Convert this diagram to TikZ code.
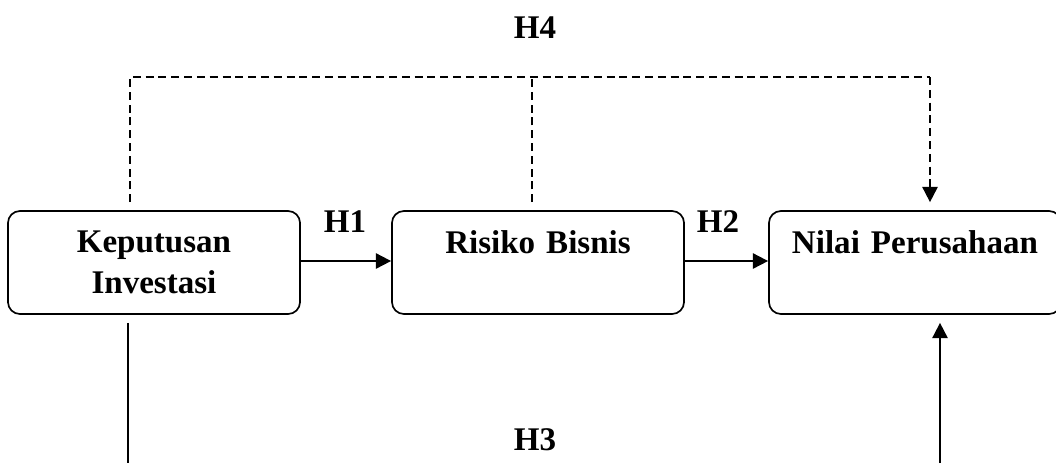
\documentclass[tikz,border=0pt]{standalone}
\usepackage{fontspec}
\setmainfont{Liberation Serif}
\usetikzlibrary{arrows.meta, positioning, calc}
\tikzstyle{varbox} = [rectangle, rounded corners=0.3cm, minimum width=7.3cm, minimum height=2.575cm, text width=7cm, align=center, draw=black, line width=1.2pt]
\tikzstyle{arrow} = [line width=1.3pt, -{Triangle[length=0.38cm,width=0.38cm]}]
\tikzstyle{hypline} = [line width=1.1pt, dash pattern=on 0.2cm off 0.12cm]
\tikzstyle{hlabel} = [inner sep=0pt]

\begin{document}
\begin{tikzpicture}[x=0.025cm, y=-0.025cm, font=\fontsize{23.5}{29}\selectfont\bfseries]
            \useasboundingbox (0,0) rectangle (1056,463);
            \node (inv) [varbox] at (154,262.5) {Keputusan\\Investasi};
            \node (risiko) [varbox] at (538,262.5) {Risiko Bisnis\\\mbox{}};
            \node (nilai) [varbox] at (915,262.5) {Nilai Perusahaan\\\mbox{}};

            \node (h1) [hlabel] at (345,222) {H1};
            \node (h2) [hlabel] at (718,222) {H2};
            \node (h3) [hlabel] at (535,440) {H3};
            \node (h4) [hlabel] at (535,28) {H4};

            \coordinate (h4l) at (130,77);
            \coordinate (h4m) at (532,77);
            \coordinate (h4r) at (930,77);
            \coordinate (b1) at (128,463);
            \coordinate (b2) at (940,463);

            \draw [arrow] (inv.east |- 0,261) -- (risiko.west |- 0,261);
            \draw [arrow] (risiko.east |- 0,261) -- (nilai.west |- 0,261);

            \draw [hypline, shorten <=0.2cm] (inv.north -| h4l) -- (h4l) -- (h4r);
            \draw [hypline, shorten <=0.2cm] (risiko.north -| h4m) -- (h4m);
            \draw [hypline, arrow, shorten >=0.2cm] (h4r) -- (nilai.north -| h4r);

            \draw [line width=1.3pt, shorten <=0.2cm] (inv.south -| b1) -- (b1);
            \draw [arrow, shorten >=0.2cm] (b2) -- (nilai.south -| b2);
        \end{tikzpicture}
\end{document}
